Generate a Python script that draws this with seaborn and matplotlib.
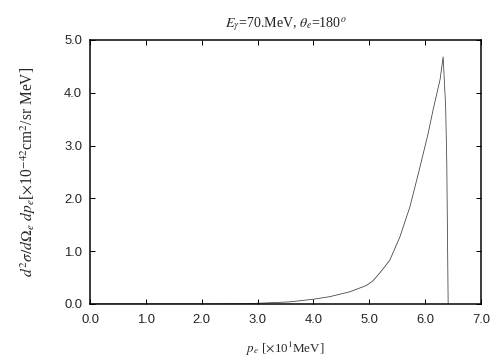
import pandas as pd
import seaborn as sns
import matplotlib.pyplot as plt

# electron momentum [x10 MeV] and cross section [x10^-42 cm^2/sr MeV]
p_e = [0.0, 1.0, 2.0, 2.8, 3.16, 3.58, 4.0, 4.30, 4.65, 4.95, 5.07, 5.2, 5.37,
       5.55, 5.73, 5.9, 6.05, 6.15, 6.27, 6.325, 6.37, 6.39, 6.415]
sigma = [0.0, 0.0, 0.0, 0.005, 0.02, 0.04, 0.09, 0.14, 0.23, 0.35, 0.44, 0.6, 0.83,
         1.27, 1.84, 2.55, 3.2, 3.7, 4.25, 4.68, 3.74, 2.7, 0.0]

df = pd.DataFrame({"p_e": p_e, "sigma": sigma})

sns.set_style("ticks")
plt.rcParams["mathtext.fontset"] = "stix"
plt.rcParams["font.family"] = ["Liberation Sans", "DejaVu Sans"]

fig = plt.figure(figsize=(7, 5), dpi=72)
ax = fig.add_axes([0.1786, 0.1556, 0.7754, 0.7334])
sns.lineplot(x="p_e", y="sigma", data=df, color="#444444", linewidth=0.8, ax=ax, sort=False)

ax.set_xlim(0, 7)
ax.set_ylim(0, 5)
ax.set_xticks([0, 1, 2, 3, 4, 5, 6, 7])
ax.set_yticks([0, 1, 2, 3, 4, 5])
ax.set_xticklabels(["%.1f" % v for v in range(8)])
ax.set_yticklabels(["%.1f" % v for v in range(6)])
ax.tick_params(direction="in", length=5, width=1, top=True, right=True,
               labelsize=13, pad=8, color="black")
ax.tick_params(axis="x", pad=10)
for s in ax.spines.values():
    s.set_linewidth(1.5)
    s.set_color("black")

serif = ["Liberation Serif", "DejaVu Serif"]
ax.set_title(r"$E_\gamma$=70.MeV, $\theta_e$=180$^o$", fontsize=14, family=serif, pad=13)
ax.set_xlabel(r"$p_e$ [$\times$10$^1$MeV]", fontsize=13, family=serif, labelpad=14)
ax.set_ylabel(r"$d^2\sigma/d\Omega_e\ dp_e$[$\times$10$^{-42}$cm$^2$/sr MeV]",
              fontsize=15.5, family=serif, labelpad=26)

fig.savefig("out.png", dpi=72)
